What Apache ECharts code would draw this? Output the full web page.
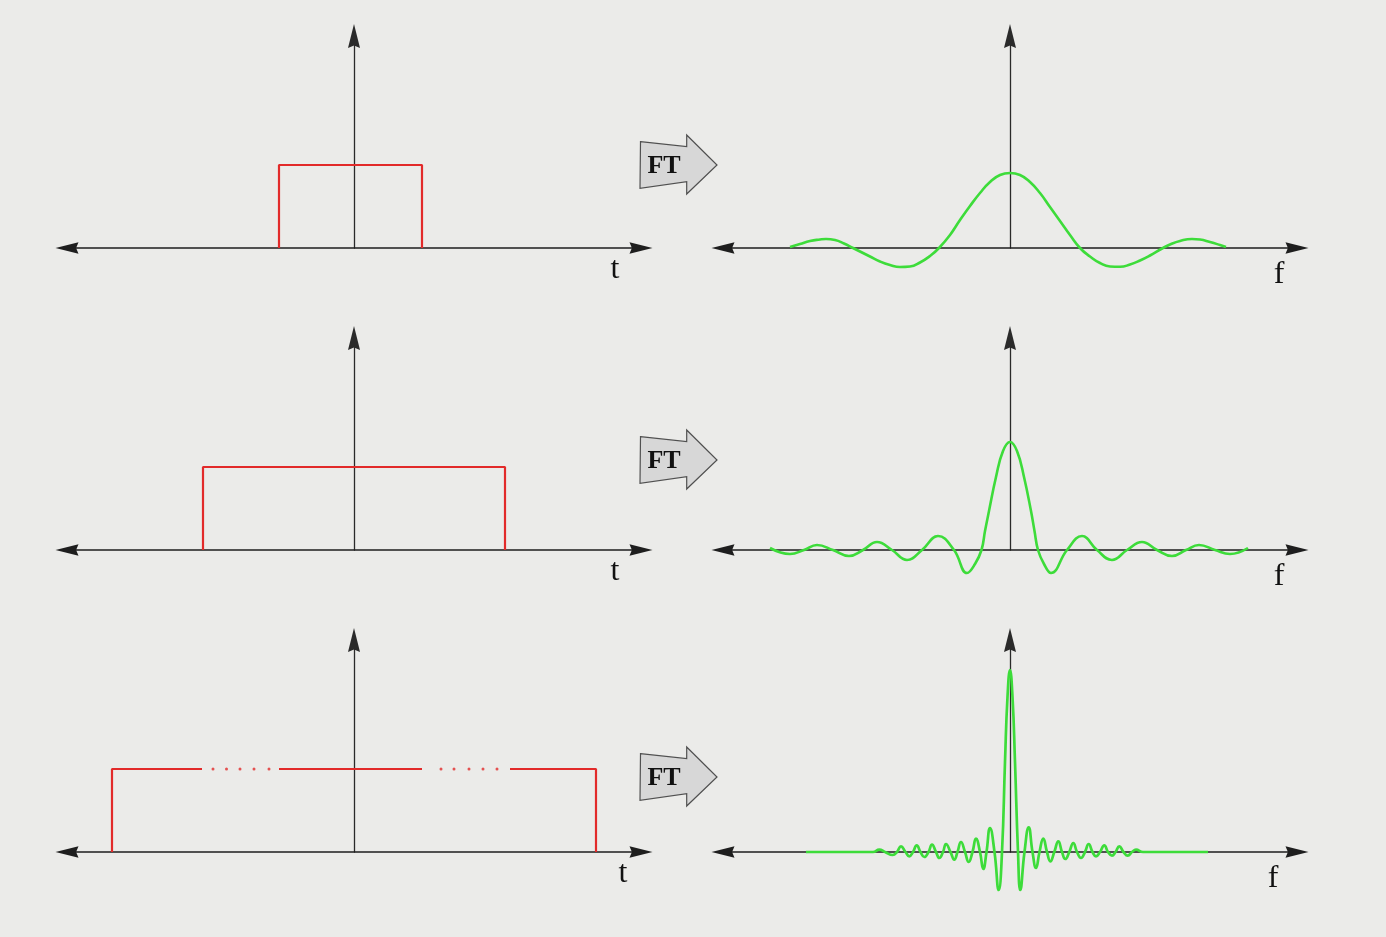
<!DOCTYPE html>
<html>
<head>
<meta charset="utf-8">
<script src="https://cdn.jsdelivr.net/npm/echarts@6/dist/echarts.min.js"></script>
<style>
html,body{margin:0;padding:0;background:#ebebe9;}
#c{width:1386px;height:937px;}
</style>
</head>
<body>
<div id="c"></div>
<script>
// ---------- data (t / f in arbitrary units, amplitude in arbitrary units) ----------
const pulse1 = [[-7.5,0],[-7.5,8.3],[6.8,8.3],[6.8,0]];
const pulse2 = [[-15.1,0],[-15.1,8.3],[15.1,8.3],[15.1,0]];
const pulse3Left  = [[-24.2,0],[-24.2,8.3],[-15.2,8.3]];
const pulse3Mid   = [[-7.5,8.3],[6.8,8.3]];
const pulse3Right = [[15.6,8.3],[24.2,8.3],[24.2,0]];
const pulse3Dots  = [[-14.1,8.3],[-12.75,8.3],[-11.4,8.3],[-10.0,8.3],[-8.5,8.3],
                     [8.7,8.3],[10.0,8.3],[11.5,8.3],[12.9,8.3],[14.3,8.3]];

const spectrum1 = [[-22.0,0.1],[-21.0,0.4],[-20.0,0.7],[-19.0,0.85],[-18.4,0.9],[-17.5,0.8],[-16.6,0.45],
  [-15.7,0],[-15.0,-0.35],[-14.0,-0.85],[-13.0,-1.35],[-12.0,-1.7],[-11.0,-1.9],[-10.0,-1.85],[-9.0,-1.45],
  [-8.0,-0.8],[-7.1,0],[-6.0,1.3],[-5.0,2.8],[-4.0,4.2],[-3.0,5.5],[-2.0,6.6],[-1.0,7.3],[0,7.5],
  [1.0,7.3],[2.0,6.6],[3.0,5.5],[4.0,4.1],[5.0,2.7],[6.0,1.3],[7.0,0],[8.0,-0.85],[9.0,-1.5],
  [10.0,-1.85],[11.0,-1.88],[12.0,-1.65],[13.0,-1.25],[14.0,-0.75],[15.3,0],[16.0,0.35],[17.0,0.7],
  [18.2,0.9],[19.0,0.85],[20.0,0.6],[21.0,0.3],[21.6,0.1]];

const spectrum2 = [[-24.0,0.2],[-22.0,-0.4],[-20.6,0],[-19.3,0.5],[-17.7,0],[-16.1,-0.6],[-14.7,0],
  [-13.3,0.8],[-11.8,0],[-10.3,-1.0],[-8.8,0],[-7.2,1.4],[-5.6,0],[-4.3,-2.3],[-3.5,-1.4],[-2.85,0],
  [-2.5,1.9],[-2.1,3.9],[-1.4,7.3],[-0.7,9.9],[0,10.8],[0.7,9.9],[1.4,7.3],[2.1,3.9],[2.45,1.9],
  [2.8,0],[3.4,-1.4],[4.1,-2.3],[5.7,0],[7.2,1.4],[8.7,0],[10.2,-1.0],[11.7,0],[13.2,0.8],[14.7,0],
  [16.2,-0.6],[17.6,0],[18.9,0.5],[20.5,0],[22.0,-0.4],[23.8,0.2]];

const spectrum3 = [[-20.4,0],[-13.7,0],[-13.07,0.23],[-12.5,0],[-11.73,-0.3],[-11.3,0],[-10.9,0.57],
  [-10.45,0],[-10.07,-0.43],[-9.7,0],[-9.33,0.67],[-8.95,0],[-8.57,-0.5],[-8.15,0],[-7.8,0.73],
  [-7.4,0],[-7.07,-0.6],[-6.7,0],[-6.4,0.8],[-5.95,0],[-5.57,-0.77],[-5.25,0],[-4.9,1.0],[-4.5,0],
  [-4.13,-1.0],[-3.75,0],[-3.4,1.33],[-3.0,0],[-2.67,-1.7],[-2.35,0],[-2.0,2.4],[-1.55,0],
  [-1.13,-3.8],[-0.8,0],[-0.5,9.0],[-0.25,15.5],[0,18.2],[0.25,15.5],[0.5,9.0],[0.8,0],
  [1.03,-3.8],[1.45,0],[1.87,2.47],[2.25,0],[2.6,-1.6],[2.95,0],[3.33,1.33],[3.7,0],[4.03,-0.93],
  [4.43,0],[4.83,1.07],[5.2,0],[5.53,-0.7],[5.93,0],[6.33,0.9],[6.7,0],[7.1,-0.6],[7.5,0],
  [7.87,0.8],[8.25,0],[8.6,-0.43],[9.0,0],[9.43,0.67],[9.8,0],[10.2,-0.37],[10.55,0],[10.93,0.57],
  [11.35,0],[11.77,-0.37],[12.2,0],[12.6,0.23],[13.3,0],[19.8,0]];

const timeLabel = 't';
const freqLabel = 'f';
const ftLabel = 'FT';
const axisRange = [-28.7, 28.7];
const ampMax = 21.2;

// ---------- layout / style ----------
const RED = '#e22a2a';
const GREEN = '#3ddc3a';
const ARROW = 'path://M6,0 L12,24 L6,21.5 L0,24 Z';
const axisY = [248, 550, 852];

const grids = [], xAxes = [], yAxes = [], series = [];

function addPanel(row, side) {
  const idx = grids.length;
  grids.push({left: side === 'L' ? 67 : 723, width: 574, top: axisY[row] - 212, height: 212});
  xAxes.push({
    type: 'value', gridIndex: idx, min: axisRange[0], max: axisRange[1],
    axisLine: {show: true, onZero: true, symbol: [ARROW, ARROW], symbolSize: [12, 23],
      lineStyle: {color: '#1e1e1e', width: 1.6}},
    axisTick: {show: false}, axisLabel: {show: false}, splitLine: {show: false}
  });
  yAxes.push({
    type: 'value', gridIndex: idx, min: 0, max: ampMax,
    axisLine: {show: true, onZero: true, symbol: ['none', ARROW], symbolSize: [12, 25],
      lineStyle: {color: '#2a2a2a', width: 1.3}},
    axisTick: {show: false}, axisLabel: {show: false}, splitLine: {show: false}
  });
  return idx;
}

function addLine(idx, data, color, width, smooth) {
  series.push({
    type: 'line', xAxisIndex: idx, yAxisIndex: idx, data: data,
    symbol: 'none', showSymbol: false, clip: false, smooth: smooth,
    lineStyle: {color: color, width: width}, silent: true, z: 3
  });
}

// row 1
let p = addPanel(0, 'L');
addLine(p, pulse1, RED, 2.2, false);
p = addPanel(0, 'R');
addLine(p, spectrum1, GREEN, 2.6, 0.5);
// row 2
p = addPanel(1, 'L');
addLine(p, pulse2, RED, 2.2, false);
p = addPanel(1, 'R');
addLine(p, spectrum2, GREEN, 2.6, 0.45);
// row 3
p = addPanel(2, 'L');
addLine(p, pulse3Left, RED, 2.2, false);
addLine(p, pulse3Mid, RED, 2.2, false);
addLine(p, pulse3Right, RED, 2.2, false);
series.push({type: 'scatter', xAxisIndex: p, yAxisIndex: p, data: pulse3Dots, symbol: 'circle',
  symbolSize: 3, itemStyle: {color: RED}, silent: true, z: 3});
p = addPanel(2, 'R');
addLine(p, spectrum3, GREEN, 2.7, true);

const graphics = [];
// axis letters
const axisLetters = [
  [timeLabel, 615, 270], [timeLabel, 615, 572], [timeLabel, 623, 874],
  [freqLabel, 1279, 275], [freqLabel, 1279, 577], [freqLabel, 1273, 879]
];
axisLetters.forEach(function (l) {
  graphics.push({type: 'text', x: l[1], y: l[2], z: 10,
    style: {text: l[0], font: '32px "Liberation Serif"', fill: '#111', align: 'center', verticalAlign: 'middle'}});
});

// FT block arrows
const arrowTipY = [165, 460, 777];
arrowTipY.forEach(function (cy) {
  const tx = 717;
  graphics.push({
    type: 'polygon', z: 10,
    shape: {points: [[tx - 76.5, cy - 23.3], [tx - 30.3, cy - 18.3], [tx - 30.3, cy - 30], [tx, cy],
      [tx - 30.3, cy + 29], [tx - 30.3, cy + 16.7], [tx - 77, cy + 23.3]]},
    style: {fill: '#d7d7d7', stroke: '#505050', lineWidth: 1.2}
  });
  graphics.push({
    type: 'text', z: 11, x: tx - 53, y: cy + 1,
    style: {text: ftLabel, font: 'bold 26px "Liberation Serif"', fill: '#111',
      align: 'center', verticalAlign: 'middle'}
  });
});

const chart = echarts.init(document.getElementById('c'));
chart.setOption({
  backgroundColor: '#ebebe9',
  animation: false,
  grid: grids, xAxis: xAxes, yAxis: yAxes, series: series,
  graphic: graphics
});
</script>
</body>
</html>
